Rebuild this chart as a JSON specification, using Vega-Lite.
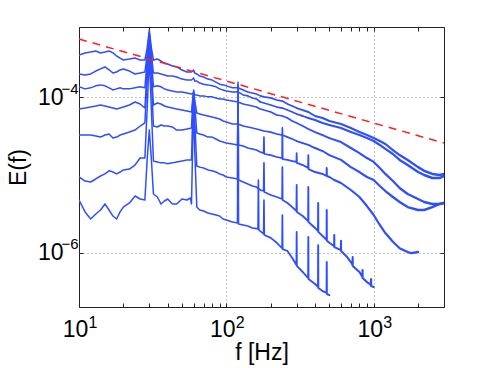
{
"$schema":"https://vega.github.io/schema/vega-lite/v6.json",
"autosize":{"type":"none"},
"padding":{"left":79,"top":27,"right":47,"bottom":61},
"width":365,"height":280,
"background":"white",
"config":{"view":{"stroke":"#222","strokeWidth":1}},
"data":{"values":[
{"s":1,"f":10,"E":3.49e-4},{"s":1,"f":11,"E":3.71e-4},{"s":1,"f":12,"E":3.82e-4},{"s":1,"f":13,"E":3.93e-4},{"s":1,"f":14,"E":3.71e-4},{"s":1,"f":15,"E":3.82e-4},{"s":1,"f":16,"E":3.93e-4},{"s":1,"f":17,"E":3.71e-4},{"s":1,"f":18,"E":3.39e-4},{"s":1,"f":19,"E":3.19e-4},{"s":1,"f":20,"E":3.01e-4},{"s":1,"f":22,"E":3.10e-4},{"s":1,"f":24,"E":3.19e-4},{"s":1,"f":26,"E":3.01e-4},{"s":1,"f":28,"E":3.01e-4},{"s":1,"f":29,"E":4.29e-4},{"s":1,"f":30,"E":7.32e-4},{"s":1,"f":31,"E":4.29e-4},{"s":1,"f":32,"E":3.01e-4},{"s":1,"f":34,"E":3.10e-4},{"s":1,"f":36,"E":2.92e-4},{"s":1,"f":38,"E":2.75e-4},{"s":1,"f":40,"E":2.67e-4},{"s":1,"f":43,"E":2.52e-4},{"s":1,"f":46,"E":2.45e-4},{"s":1,"f":50,"E":2.24e-4},{"s":1,"f":54,"E":2.11e-4},{"s":1,"f":58,"E":2.11e-4},{"s":1,"f":60,"E":2.24e-4},{"s":1,"f":61,"E":2.05e-4},{"s":1,"f":63,"E":1.99e-4},{"s":1,"f":66,"E":1.87e-4},{"s":1,"f":70,"E":1.82e-4},{"s":1,"f":75,"E":1.71e-4},{"s":1,"f":80,"E":1.66e-4},{"s":1,"f":85,"E":1.56e-4},{"s":1,"f":90,"E":1.47e-4},{"s":1,"f":95,"E":1.44e-4},{"s":1,"f":100,"E":1.40e-4},{"s":1,"f":110,"E":1.32e-4},{"s":1,"f":120,"E":1.32e-4},{"s":1,"f":130,"E":1.24e-4},{"s":1,"f":140,"E":1.17e-4},{"s":1,"f":150,"E":1.13e-4},{"s":1,"f":160,"E":1.10e-4},{"s":1,"f":170,"E":1.04e-4},{"s":1,"f":180,"E":1.01e-4},{"s":1,"f":200,"E":9.79e-5},{"s":1,"f":220,"E":9.20e-5},{"s":1,"f":240,"E":8.93e-5},{"s":1,"f":260,"E":8.17e-5},{"s":1,"f":280,"E":7.70e-5},{"s":1,"f":300,"E":7.26e-5},{"s":1,"f":330,"E":6.84e-5},{"s":1,"f":360,"E":6.45e-5},{"s":1,"f":400,"E":5.73e-5},{"s":1,"f":450,"E":5.40e-5},{"s":1,"f":500,"E":4.94e-5},{"s":1,"f":600,"E":4.52e-5},{"s":1,"f":700,"E":4.02e-5},{"s":1,"f":800,"E":3.56e-5},{"s":1,"f":900,"E":3.26e-5},{"s":1,"f":1000,"E":2.98e-5},{"s":1,"f":1100,"E":2.73e-5},{"s":1,"f":1200,"E":2.50e-5},{"s":1,"f":1350,"E":2.09e-5},{"s":1,"f":1500,"E":1.80e-5},{"s":1,"f":1700,"E":1.56e-5},{"s":1,"f":2000,"E":1.26e-5},{"s":1,"f":2200,"E":1.13e-5},{"s":1,"f":2500,"E":1.03e-5},{"s":1,"f":2800,"E":9.98e-6},{"s":1,"f":3000,"E":1.03e-5},
{"s":2,"f":10,"E":1.99e-4},{"s":2,"f":11,"E":1.93e-4},{"s":2,"f":12,"E":1.99e-4},{"s":2,"f":13,"E":2.17e-4},{"s":2,"f":14,"E":2.31e-4},{"s":2,"f":15,"E":2.45e-4},{"s":2,"f":16,"E":2.24e-4},{"s":2,"f":17,"E":2.05e-4},{"s":2,"f":18,"E":2.11e-4},{"s":2,"f":19,"E":2.24e-4},{"s":2,"f":20,"E":2.31e-4},{"s":2,"f":22,"E":2.17e-4},{"s":2,"f":24,"E":1.99e-4},{"s":2,"f":26,"E":2.05e-4},{"s":2,"f":28,"E":2.11e-4},{"s":2,"f":29,"E":3.49e-4},{"s":2,"f":30,"E":6.70e-4},{"s":2,"f":31,"E":3.49e-4},{"s":2,"f":32,"E":2.05e-4},{"s":2,"f":34,"E":2.05e-4},{"s":2,"f":36,"E":1.99e-4},{"s":2,"f":38,"E":1.93e-4},{"s":2,"f":40,"E":1.87e-4},{"s":2,"f":43,"E":1.87e-4},{"s":2,"f":46,"E":1.82e-4},{"s":2,"f":50,"E":1.71e-4},{"s":2,"f":54,"E":1.66e-4},{"s":2,"f":58,"E":1.66e-4},{"s":2,"f":60,"E":1.77e-4},{"s":2,"f":61,"E":1.61e-4},{"s":2,"f":63,"E":1.61e-4},{"s":2,"f":66,"E":1.52e-4},{"s":2,"f":70,"E":1.47e-4},{"s":2,"f":75,"E":1.44e-4},{"s":2,"f":80,"E":1.40e-4},{"s":2,"f":85,"E":1.36e-4},{"s":2,"f":90,"E":1.28e-4},{"s":2,"f":95,"E":1.24e-4},{"s":2,"f":100,"E":1.20e-4},{"s":2,"f":110,"E":1.17e-4},{"s":2,"f":120,"E":1.17e-4},{"s":2,"f":130,"E":1.07e-4},{"s":2,"f":140,"E":1.04e-4},{"s":2,"f":150,"E":9.79e-5},{"s":2,"f":160,"E":9.50e-5},{"s":2,"f":170,"E":8.67e-5},{"s":2,"f":180,"E":8.42e-5},{"s":2,"f":200,"E":7.93e-5},{"s":2,"f":220,"E":7.47e-5},{"s":2,"f":240,"E":7.26e-5},{"s":2,"f":260,"E":6.84e-5},{"s":2,"f":280,"E":6.45e-5},{"s":2,"f":300,"E":6.08e-5},{"s":2,"f":330,"E":5.73e-5},{"s":2,"f":360,"E":5.40e-5},{"s":2,"f":400,"E":5.09e-5},{"s":2,"f":450,"E":4.66e-5},{"s":2,"f":500,"E":4.39e-5},{"s":2,"f":600,"E":4.02e-5},{"s":2,"f":700,"E":3.56e-5},{"s":2,"f":800,"E":3.26e-5},{"s":2,"f":900,"E":2.98e-5},{"s":2,"f":1000,"E":2.73e-5},{"s":2,"f":1100,"E":2.43e-5},{"s":2,"f":1200,"E":2.16e-5},{"s":2,"f":1350,"E":1.86e-5},{"s":2,"f":1500,"E":1.56e-5},{"s":2,"f":1700,"E":1.34e-5},{"s":2,"f":2000,"E":1.09e-5},{"s":2,"f":2200,"E":9.98e-6},{"s":2,"f":2500,"E":9.13e-6},{"s":2,"f":2800,"E":9.13e-6},{"s":2,"f":3000,"E":9.69e-6},
{"s":3,"f":10,"E":1.36e-4},{"s":3,"f":11,"E":1.28e-4},{"s":3,"f":12,"E":1.32e-4},{"s":3,"f":13,"E":1.40e-4},{"s":3,"f":14,"E":1.44e-4},{"s":3,"f":15,"E":1.40e-4},{"s":3,"f":16,"E":1.32e-4},{"s":3,"f":17,"E":1.24e-4},{"s":3,"f":18,"E":1.28e-4},{"s":3,"f":19,"E":1.32e-4},{"s":3,"f":20,"E":1.28e-4},{"s":3,"f":22,"E":1.28e-4},{"s":3,"f":24,"E":1.32e-4},{"s":3,"f":26,"E":1.36e-4},{"s":3,"f":28,"E":1.32e-4},{"s":3,"f":29,"E":3.01e-4},{"s":3,"f":30,"E":6.13e-4},{"s":3,"f":31,"E":3.01e-4},{"s":3,"f":32,"E":1.36e-4},{"s":3,"f":34,"E":1.40e-4},{"s":3,"f":36,"E":1.36e-4},{"s":3,"f":38,"E":1.28e-4},{"s":3,"f":40,"E":1.24e-4},{"s":3,"f":43,"E":1.20e-4},{"s":3,"f":46,"E":1.17e-4},{"s":3,"f":50,"E":1.17e-4},{"s":3,"f":54,"E":1.13e-4},{"s":3,"f":58,"E":1.10e-4},{"s":3,"f":60,"E":1.13e-4},{"s":3,"f":61,"E":1.07e-4},{"s":3,"f":63,"E":1.07e-4},{"s":3,"f":66,"E":1.04e-4},{"s":3,"f":70,"E":1.04e-4},{"s":3,"f":75,"E":1.01e-4},{"s":3,"f":80,"E":1.01e-4},{"s":3,"f":85,"E":9.79e-5},{"s":3,"f":90,"E":9.50e-5},{"s":3,"f":95,"E":9.50e-5},{"s":3,"f":100,"E":9.20e-5},{"s":3,"f":110,"E":8.93e-5},{"s":3,"f":120,"E":8.67e-5},{"s":3,"f":130,"E":8.17e-5},{"s":3,"f":140,"E":7.93e-5},{"s":3,"f":150,"E":7.70e-5},{"s":3,"f":160,"E":7.47e-5},{"s":3,"f":170,"E":7.04e-5},{"s":3,"f":180,"E":6.84e-5},{"s":3,"f":200,"E":6.45e-5},{"s":3,"f":220,"E":5.90e-5},{"s":3,"f":240,"E":5.73e-5},{"s":3,"f":260,"E":5.40e-5},{"s":3,"f":280,"E":4.94e-5},{"s":3,"f":300,"E":4.66e-5},{"s":3,"f":330,"E":4.26e-5},{"s":3,"f":360,"E":3.90e-5},{"s":3,"f":400,"E":3.56e-5},{"s":3,"f":450,"E":3.26e-5},{"s":3,"f":500,"E":2.98e-5},{"s":3,"f":600,"E":2.65e-5},{"s":3,"f":700,"E":2.22e-5},{"s":3,"f":800,"E":1.91e-5},{"s":3,"f":900,"E":1.65e-5},{"s":3,"f":1000,"E":1.47e-5},{"s":3,"f":1100,"E":1.23e-5},{"s":3,"f":1200,"E":1.03e-5},{"s":3,"f":1350,"E":8.35e-6},{"s":3,"f":1500,"E":6.79e-6},{"s":3,"f":1700,"E":5.69e-6},{"s":3,"f":2000,"E":4.90e-6},{"s":3,"f":2200,"E":4.49e-6},{"s":3,"f":2500,"E":4.23e-6},{"s":3,"f":2800,"E":4.23e-6},{"s":3,"f":3000,"E":4.36e-6},
{"s":4,"f":10,"E":7.04e-5},{"s":4,"f":11,"E":7.26e-5},{"s":4,"f":12,"E":7.47e-5},{"s":4,"f":13,"E":7.70e-5},{"s":4,"f":14,"E":7.93e-5},{"s":4,"f":15,"E":7.70e-5},{"s":4,"f":16,"E":7.47e-5},{"s":4,"f":17,"E":7.26e-5},{"s":4,"f":18,"E":7.04e-5},{"s":4,"f":19,"E":7.26e-5},{"s":4,"f":20,"E":7.47e-5},{"s":4,"f":22,"E":7.93e-5},{"s":4,"f":24,"E":8.67e-5},{"s":4,"f":26,"E":8.17e-5},{"s":4,"f":28,"E":7.26e-5},{"s":4,"f":29,"E":2.24e-4},{"s":4,"f":30,"E":5.44e-4},{"s":4,"f":31,"E":2.24e-4},{"s":4,"f":32,"E":7.93e-5},{"s":4,"f":34,"E":8.42e-5},{"s":4,"f":36,"E":8.17e-5},{"s":4,"f":38,"E":7.70e-5},{"s":4,"f":40,"E":7.47e-5},{"s":4,"f":43,"E":7.26e-5},{"s":4,"f":46,"E":7.04e-5},{"s":4,"f":50,"E":6.84e-5},{"s":4,"f":54,"E":6.64e-5},{"s":4,"f":58,"E":6.45e-5},{"s":4,"f":59,"E":9.20e-5},{"s":4,"f":60,"E":1.17e-4},{"s":4,"f":61,"E":9.20e-5},{"s":4,"f":63,"E":6.26e-5},{"s":4,"f":66,"E":6.08e-5},{"s":4,"f":70,"E":5.90e-5},{"s":4,"f":75,"E":5.73e-5},{"s":4,"f":80,"E":5.56e-5},{"s":4,"f":85,"E":5.40e-5},{"s":4,"f":90,"E":5.24e-5},{"s":4,"f":95,"E":4.94e-5},{"s":4,"f":100,"E":4.80e-5},{"s":4,"f":110,"E":4.52e-5},{"s":4,"f":120,"E":4.52e-5},{"s":4,"f":130,"E":4.26e-5},{"s":4,"f":140,"E":4.14e-5},{"s":4,"f":150,"E":4.02e-5},{"s":4,"f":160,"E":3.90e-5},{"s":4,"f":170,"E":3.78e-5},{"s":4,"f":180,"E":3.67e-5},{"s":4,"f":200,"E":3.56e-5},{"s":4,"f":220,"E":3.36e-5},{"s":4,"f":240,"E":3.26e-5},{"s":4,"f":260,"E":3.07e-5},{"s":4,"f":280,"E":2.90e-5},{"s":4,"f":300,"E":2.73e-5},{"s":4,"f":330,"E":2.57e-5},{"s":4,"f":360,"E":2.43e-5},{"s":4,"f":400,"E":2.22e-5},{"s":4,"f":450,"E":2.03e-5},{"s":4,"f":500,"E":1.80e-5},{"s":4,"f":600,"E":1.56e-5},{"s":4,"f":700,"E":1.26e-5},{"s":4,"f":800,"E":1.09e-5},{"s":4,"f":900,"E":9.41e-6},{"s":4,"f":1000,"E":8.60e-6},{"s":4,"f":1100,"E":7.20e-6},{"s":4,"f":1200,"E":6.21e-6},{"s":4,"f":1350,"E":5.20e-6},{"s":4,"f":1500,"E":4.49e-6},{"s":4,"f":1700,"E":3.86e-6},{"s":4,"f":2000,"E":3.54e-6},{"s":4,"f":2200,"E":3.54e-6},{"s":4,"f":2500,"E":3.86e-6},{"s":4,"f":2800,"E":4.23e-6},{"s":4,"f":3000,"E":4.36e-6},
{"s":5,"f":10,"E":3.26e-5},{"s":5,"f":11,"E":3.26e-5},{"s":5,"f":12,"E":3.26e-5},{"s":5,"f":13,"E":3.16e-5},{"s":5,"f":14,"E":3.07e-5},{"s":5,"f":15,"E":3.26e-5},{"s":5,"f":16,"E":3.36e-5},{"s":5,"f":17,"E":2.98e-5},{"s":5,"f":18,"E":3.07e-5},{"s":5,"f":19,"E":3.26e-5},{"s":5,"f":20,"E":3.36e-5},{"s":5,"f":22,"E":3.56e-5},{"s":5,"f":24,"E":3.78e-5},{"s":5,"f":26,"E":4.26e-5},{"s":5,"f":28,"E":4.66e-5},{"s":5,"f":29,"E":1.66e-4},{"s":5,"f":30,"E":4.69e-4},{"s":5,"f":31,"E":1.66e-4},{"s":5,"f":32,"E":4.26e-5},{"s":5,"f":34,"E":4.14e-5},{"s":5,"f":36,"E":4.39e-5},{"s":5,"f":38,"E":4.26e-5},{"s":5,"f":40,"E":4.26e-5},{"s":5,"f":43,"E":4.14e-5},{"s":5,"f":46,"E":3.78e-5},{"s":5,"f":50,"E":3.78e-5},{"s":5,"f":54,"E":3.90e-5},{"s":5,"f":58,"E":4.02e-5},{"s":5,"f":59,"E":7.93e-5},{"s":5,"f":60,"E":1.24e-4},{"s":5,"f":61,"E":7.93e-5},{"s":5,"f":63,"E":3.46e-5},{"s":5,"f":66,"E":3.36e-5},{"s":5,"f":70,"E":3.26e-5},{"s":5,"f":75,"E":3.07e-5},{"s":5,"f":80,"E":3.07e-5},{"s":5,"f":85,"E":2.90e-5},{"s":5,"f":90,"E":2.73e-5},{"s":5,"f":95,"E":2.65e-5},{"s":5,"f":100,"E":2.57e-5},{"s":5,"f":110,"E":2.50e-5},{"s":5,"f":119,"E":2.43e-5},{"s":5,"f":120,"E":9.20e-5},{"s":5,"f":121,"E":2.43e-5},{"s":5,"f":130,"E":2.36e-5},{"s":5,"f":140,"E":2.22e-5},{"s":5,"f":150,"E":2.16e-5},{"s":5,"f":160,"E":2.09e-5},{"s":5,"f":170,"E":1.97e-5},{"s":5,"f":179,"E":1.91e-5},{"s":5,"f":180,"E":3.07e-5},{"s":5,"f":181,"E":1.86e-5},{"s":5,"f":200,"E":1.80e-5},{"s":5,"f":220,"E":1.70e-5},{"s":5,"f":239,"E":1.65e-5},{"s":5,"f":240,"E":4.02e-5},{"s":5,"f":241,"E":1.60e-5},{"s":5,"f":260,"E":1.56e-5},{"s":5,"f":280,"E":1.51e-5},{"s":5,"f":299,"E":1.47e-5},{"s":5,"f":300,"E":1.91e-5},{"s":5,"f":301,"E":1.43e-5},{"s":5,"f":330,"E":1.34e-5},{"s":5,"f":359,"E":1.23e-5},{"s":5,"f":360,"E":1.80e-5},{"s":5,"f":361,"E":1.19e-5},{"s":5,"f":400,"E":1.09e-5},{"s":5,"f":450,"E":1.03e-5},{"s":5,"f":479,"E":9.69e-6},{"s":5,"f":480,"E":1.23e-5},{"s":5,"f":481,"E":9.69e-6},{"s":5,"f":500,"E":9.41e-6},{"s":5,"f":540,"E":8.60e-6},{"s":5,"f":600,"E":7.87e-6},{"s":5,"f":700,"E":6.40e-6},{"s":5,"f":800,"E":5.20e-6},{"s":5,"f":900,"E":3.98e-6},{"s":5,"f":1000,"E":3.05e-6},{"s":5,"f":1100,"E":2.27e-6},{"s":5,"f":1200,"E":1.79e-6},{"s":5,"f":1350,"E":1.38e-6},{"s":5,"f":1500,"E":1.14e-6},{"s":5,"f":1700,"E":1.02e-6},{"s":5,"f":1800,"E":9.88e-7},{"s":5,"f":2000,"E":1.02e-6},
{"s":6,"f":10,"E":9.41e-6},{"s":6,"f":11,"E":8.35e-6},{"s":6,"f":12,"E":8.11e-6},{"s":6,"f":13,"E":8.87e-6},{"s":6,"f":14,"E":9.69e-6},{"s":6,"f":15,"E":1.03e-5},{"s":6,"f":16,"E":1.13e-5},{"s":6,"f":17,"E":1.09e-5},{"s":6,"f":18,"E":1.03e-5},{"s":6,"f":19,"E":1.09e-5},{"s":6,"f":20,"E":1.16e-5},{"s":6,"f":22,"E":1.19e-5},{"s":6,"f":24,"E":1.34e-5},{"s":6,"f":26,"E":1.65e-5},{"s":6,"f":28,"E":1.65e-5},{"s":6,"f":29,"E":6.84e-5},{"s":6,"f":30,"E":3.49e-4},{"s":6,"f":31,"E":6.84e-5},{"s":6,"f":32,"E":1.51e-5},{"s":6,"f":34,"E":1.47e-5},{"s":6,"f":36,"E":1.43e-5},{"s":6,"f":38,"E":1.43e-5},{"s":6,"f":40,"E":1.39e-5},{"s":6,"f":43,"E":1.43e-5},{"s":6,"f":46,"E":1.47e-5},{"s":6,"f":50,"E":1.51e-5},{"s":6,"f":54,"E":1.56e-5},{"s":6,"f":58,"E":1.56e-5},{"s":6,"f":59,"E":5.09e-5},{"s":6,"f":60,"E":1.17e-4},{"s":6,"f":61,"E":5.09e-5},{"s":6,"f":63,"E":1.30e-5},{"s":6,"f":66,"E":1.26e-5},{"s":6,"f":70,"E":1.23e-5},{"s":6,"f":75,"E":1.16e-5},{"s":6,"f":80,"E":1.13e-5},{"s":6,"f":85,"E":1.09e-5},{"s":6,"f":90,"E":1.03e-5},{"s":6,"f":95,"E":9.98e-6},{"s":6,"f":100,"E":9.41e-6},{"s":6,"f":110,"E":9.13e-6},{"s":6,"f":119,"E":8.87e-6},{"s":6,"f":120,"E":1.44e-4},{"s":6,"f":121,"E":8.60e-6},{"s":6,"f":130,"E":8.11e-6},{"s":6,"f":140,"E":7.64e-6},{"s":6,"f":150,"E":7.20e-6},{"s":6,"f":160,"E":6.99e-6},{"s":6,"f":170,"E":6.40e-6},{"s":6,"f":179,"E":6.21e-6},{"s":6,"f":180,"E":1.43e-5},{"s":6,"f":181,"E":6.03e-6},{"s":6,"f":200,"E":5.52e-6},{"s":6,"f":220,"E":5.20e-6},{"s":6,"f":239,"E":4.90e-6},{"s":6,"f":240,"E":1.26e-5},{"s":6,"f":241,"E":4.76e-6},{"s":6,"f":260,"E":4.36e-6},{"s":6,"f":280,"E":3.86e-6},{"s":6,"f":299,"E":3.44e-6},{"s":6,"f":300,"E":7.42e-6},{"s":6,"f":301,"E":3.34e-6},{"s":6,"f":330,"E":2.96e-6},{"s":6,"f":359,"E":2.55e-6},{"s":6,"f":360,"E":6.99e-6},{"s":6,"f":361,"E":2.48e-6},{"s":6,"f":400,"E":2.08e-6},{"s":6,"f":419,"E":1.90e-6},{"s":6,"f":420,"E":4.36e-6},{"s":6,"f":421,"E":1.85e-6},{"s":6,"f":450,"E":1.64e-6},{"s":6,"f":479,"E":1.46e-6},{"s":6,"f":480,"E":3.54e-6},{"s":6,"f":481,"E":1.42e-6},{"s":6,"f":500,"E":1.34e-6},{"s":6,"f":539,"E":1.21e-6},{"s":6,"f":540,"E":1.69e-6},{"s":6,"f":541,"E":1.18e-6},{"s":6,"f":599,"E":1.08e-6},{"s":6,"f":600,"E":1.42e-6},{"s":6,"f":601,"E":1.05e-6},{"s":6,"f":660,"E":8.79e-7},{"s":6,"f":700,"E":7.58e-7},{"s":6,"f":719,"E":6.94e-7},{"s":6,"f":720,"E":8.79e-7},{"s":6,"f":721,"E":6.74e-7},{"s":6,"f":800,"E":5.64e-7},{"s":6,"f":839,"E":4.86e-7},{"s":6,"f":840,"E":5.98e-7},{"s":6,"f":841,"E":4.72e-7},{"s":6,"f":900,"E":4.19e-7},{"s":6,"f":959,"E":3.84e-7},{"s":6,"f":960,"E":4.58e-7},{"s":6,"f":961,"E":3.73e-7},{"s":6,"f":1000,"E":3.62e-7},
{"s":7,"f":10,"E":4.76e-6},{"s":7,"f":11,"E":3.34e-6},{"s":7,"f":12,"E":2.71e-6},{"s":7,"f":13,"E":3.14e-6},{"s":7,"f":14,"E":3.54e-6},{"s":7,"f":15,"E":4.23e-6},{"s":7,"f":16,"E":3.54e-6},{"s":7,"f":17,"E":2.96e-6},{"s":7,"f":18,"E":2.71e-6},{"s":7,"f":19,"E":3.34e-6},{"s":7,"f":20,"E":3.86e-6},{"s":7,"f":22,"E":4.36e-6},{"s":7,"f":24,"E":5.36e-6},{"s":7,"f":26,"E":4.90e-6},{"s":7,"f":28,"E":4.76e-6},{"s":7,"f":29,"E":1.56e-5},{"s":7,"f":30,"E":3.78e-5},{"s":7,"f":31,"E":1.56e-5},{"s":7,"f":32,"E":5.69e-6},{"s":7,"f":34,"E":5.20e-6},{"s":7,"f":36,"E":4.23e-6},{"s":7,"f":38,"E":4.62e-6},{"s":7,"f":40,"E":4.90e-6},{"s":7,"f":43,"E":4.23e-6},{"s":7,"f":46,"E":4.23e-6},{"s":7,"f":50,"E":4.90e-6},{"s":7,"f":54,"E":4.76e-6},{"s":7,"f":57,"E":5.05e-6},{"s":7,"f":58,"E":4.23e-6},{"s":7,"f":59,"E":2.09e-5},{"s":7,"f":60,"E":9.20e-5},{"s":7,"f":61,"E":2.09e-5},{"s":7,"f":63,"E":3.86e-6},{"s":7,"f":66,"E":3.54e-6},{"s":7,"f":70,"E":3.44e-6},{"s":7,"f":75,"E":3.24e-6},{"s":7,"f":80,"E":3.14e-6},{"s":7,"f":85,"E":3.05e-6},{"s":7,"f":90,"E":2.96e-6},{"s":7,"f":95,"E":2.71e-6},{"s":7,"f":100,"E":2.63e-6},{"s":7,"f":110,"E":2.48e-6},{"s":7,"f":119,"E":2.41e-6},{"s":7,"f":120,"E":1.56e-4},{"s":7,"f":121,"E":2.34e-6},{"s":7,"f":130,"E":2.27e-6},{"s":7,"f":140,"E":2.20e-6},{"s":7,"f":150,"E":2.08e-6},{"s":7,"f":164,"E":2.02e-6},{"s":7,"f":165,"E":8.60e-6},{"s":7,"f":166,"E":1.96e-6},{"s":7,"f":179,"E":1.74e-6},{"s":7,"f":180,"E":4.76e-6},{"s":7,"f":181,"E":1.69e-6},{"s":7,"f":200,"E":1.55e-6},{"s":7,"f":220,"E":1.34e-6},{"s":7,"f":239,"E":1.14e-6},{"s":7,"f":240,"E":3.05e-6},{"s":7,"f":241,"E":1.11e-6},{"s":7,"f":260,"E":1.05e-6},{"s":7,"f":280,"E":8.54e-7},{"s":7,"f":299,"E":6.94e-7},{"s":7,"f":300,"E":1.85e-6},{"s":7,"f":301,"E":6.74e-7},{"s":7,"f":330,"E":5.64e-7},{"s":7,"f":359,"E":4.72e-7},{"s":7,"f":360,"E":1.59e-6},{"s":7,"f":361,"E":4.58e-7},{"s":7,"f":400,"E":3.95e-7},{"s":7,"f":419,"E":3.62e-7},{"s":7,"f":420,"E":1.25e-6},{"s":7,"f":421,"E":3.51e-7},{"s":7,"f":450,"E":3.21e-7},{"s":7,"f":479,"E":3.03e-7},{"s":7,"f":480,"E":7.58e-7},{"s":7,"f":481,"E":2.94e-7},{"s":7,"f":500,"E":2.85e-7}
]},
"layer":[
{
"transform":[{"filter":"datum.s <= 4"}],
"mark":{"type":"trail","color":"#2f4fff","clip":true},
"encoding":{
"x":{"field":"f","type":"quantitative","scale":{"type":"log","domain":[10,3000],"nice":false},
"axis":{"orient":"bottom","values":[10,20,30,40,50,60,70,80,90,100,200,300,400,500,600,700,800,900,1000,2000,3000],
"labelExpr":"(datum.value==10||datum.value==100||datum.value==1000)?'10':''",
"tickSize":-4,"tickColor":"#222","domain":false,"grid":true,"gridDash":[1,3],"gridColor":"#888",
"gridOpacity":{"condition":{"test":"datum.value==100||datum.value==1000","value":1},"value":0},
"labelFont":"Liberation Sans","labelFontSize":23,"labelColor":"#000","labelPadding":15,"labelOffset":-4,"labelFlush":false,"labelOverlap":false,
"title":"f [Hz]","titleFont":"Liberation Sans","titleFontSize":23,"titleFontWeight":"normal","titleColor":"#000","titlePadding":0}},
"y":{"field":"E","type":"quantitative","scale":{"type":"log","domain":[2e-7,8e-4],"nice":false},
"axis":{"orient":"left","values":[1e-6,1e-4],
"labelExpr":"'10'",
"tickSize":-4,"tickColor":"#222","domain":false,"grid":true,"gridDash":[1,3],"gridColor":"#888",
"labelFont":"Liberation Sans","labelFontSize":23,"labelColor":"#000","labelPadding":20,"labelOverlap":false,
"title":"E(f)","titleFont":"Liberation Sans","titleFontSize":23,"titleFontWeight":"normal","titleColor":"#000","titlePadding":7}},
"detail":{"field":"s","type":"nominal"},
"size":{"field":"f","type":"quantitative","scale":{"type":"log","domain":[100,3000],"range":[1.5,2.5],"clamp":true},"legend":null}
}
},
{
"transform":[{"filter":"datum.s >= 5"}],
"mark":{"type":"trail","color":"#2f4fff","clip":true},
"encoding":{
"x":{"field":"f","type":"quantitative",
"axis":{"orient":"bottom","values":[10,100,1000],
"labelExpr":"datum.value==10?'1':datum.value==100?'2':'3'",
"ticks":false,"domain":false,"grid":false,
"labelFont":"Liberation Sans","labelFontSize":16,"labelColor":"#000","labelPadding":7,"labelAlign":"left","labelOffset":9,"labelFlush":false,"labelOverlap":false,"title":null}},
"y":{"field":"E","type":"quantitative",
"axis":{"orient":"left","values":[1e-6,1e-4],
"labelExpr":"datum.value>1e-5?'−4':'−6'",
"ticks":false,"domain":false,"grid":false,
"labelFont":"Liberation Sans","labelFontSize":15,"labelColor":"#000","labelPadding":1,"labelOffset":-9,"labelOverlap":false,"title":null}},
"detail":{"field":"s","type":"nominal"},
"size":{"field":"f","type":"quantitative","legend":null}
}
},
{
"data":{"values":[{"f":10,"E":5.61e-4},{"f":3000,"E":2.57e-5}]},
"mark":{"type":"line","color":"#ff2020","strokeWidth":1.5,"strokeDash":[8,6]},
"encoding":{
"x":{"field":"f","type":"quantitative","axis":{"orient":"top","values":[10,20,30,40,50,60,70,80,90,100,200,300,400,500,600,700,800,900,1000,2000,3000],"labels":false,"tickSize":-4,"tickColor":"#222","domain":false,"grid":false,"title":null}},
"y":{"field":"E","type":"quantitative","axis":{"orient":"right","values":[1e-6,1e-4],"labels":false,"tickSize":-4,"tickColor":"#222","domain":false,"grid":false,"title":null}}
}
}
],
"resolve":{"axis":{"x":"independent","y":"independent"}}
}
